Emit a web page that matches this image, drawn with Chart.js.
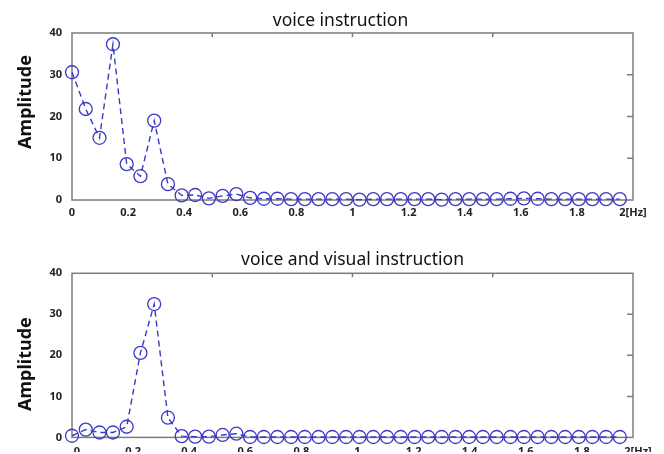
<!DOCTYPE html>
<html>
<head>
<meta charset="utf-8">
<script src="https://cdn.jsdelivr.net/npm/chart.js@4/dist/chart.umd.min.js"></script>
<style>
  html, body { margin: 0; padding: 0; background: #fff; }
  body { width: 664px; height: 454px; position: relative; overflow: hidden; }
  canvas { position: absolute; left: 0; }
  #topChart { top: 0; }
  #bottomChart { top: 240px; }
</style>
</head>
<body>
<canvas id="topChart" width="664" height="228"></canvas>
<canvas id="bottomChart" width="664" height="214"></canvas>
<script>
// frequency bins (Hz)
const freqs = [0, 0.049, 0.098, 0.146, 0.195, 0.244, 0.293, 0.342, 0.391, 0.439,
  0.488, 0.537, 0.586, 0.635, 0.684, 0.732, 0.781, 0.830, 0.879, 0.928,
  0.977, 1.025, 1.074, 1.123, 1.172, 1.221, 1.270, 1.318, 1.367, 1.416,
  1.465, 1.514, 1.563, 1.611, 1.660, 1.709, 1.758, 1.807, 1.855, 1.904, 1.953];

// amplitude spectrum, voice only
const voiceAmp = [30.6, 21.8, 14.9, 37.3, 8.6, 5.7, 19.0, 3.8, 1.1, 1.2,
  0.4, 1.0, 1.4, 0.5, 0.3, 0.3, 0.2, 0.2, 0.2, 0.2,
  0.2, 0.1, 0.2, 0.2, 0.2, 0.2, 0.2, 0.1, 0.2, 0.2,
  0.2, 0.2, 0.3, 0.4, 0.3, 0.2, 0.2, 0.2, 0.2, 0.2, 0.2];

// amplitude spectrum, voice + visual
const visualAmp = [0.4, 1.9, 1.2, 1.2, 2.6, 20.6, 32.5, 4.8, 0.3, 0.2,
  0.2, 0.6, 0.9, 0.1, 0.1, 0.1, 0.1, 0.1, 0.1, 0.1,
  0.1, 0.1, 0.1, 0.1, 0.1, 0.1, 0.1, 0.1, 0.1, 0.1,
  0.1, 0.1, 0.1, 0.1, 0.1, 0.1, 0.1, 0.1, 0.1, 0.1, 0.1];

const xTicks = [0, 0.2, 0.4, 0.6, 0.8, 1, 1.2, 1.4, 1.6, 1.8, 2];
const xTickText = ['0', '0.2', '0.4', '0.6', '0.8', '1', '1.2', '1.4', '1.6', '1.8', '2[Hz]'];
const yTicks = [0, 10, 20, 30, 40];
const yTickText = ['0', '10', '20', '30', '40'];
const topEdgeTicks = [0.5, 1, 1.5];
const rightEdgeTicks = [10, 20, 30];

const blue = '#3a3ac4';
const fontFam = '"Noto Sans", "DejaVu Sans", sans-serif';

// box around the plot, inward ticks on top/right edges, and the texts
const frameBox = {
  id: 'frameBox',
  beforeDatasetsDraw(chart) {
    const { ctx, chartArea: a, scales } = chart;
    ctx.save();
    ctx.strokeStyle = '#7c7c7c';
    ctx.lineWidth = 1.5;
    ctx.strokeRect(a.left, a.top, a.right - a.left, a.bottom - a.top);
    ctx.beginPath();
    topEdgeTicks.forEach(v => {
      const x = scales.x.getPixelForValue(v);
      ctx.moveTo(x, a.top);
      ctx.lineTo(x, a.top + 4);
    });
    rightEdgeTicks.forEach(v => {
      const y = scales.y.getPixelForValue(v);
      ctx.moveTo(a.right, y);
      ctx.lineTo(a.right - 6, y);
    });
    ctx.stroke();
    ctx.restore();
  },
  afterDraw(chart, args, opts) {
    const { ctx, chartArea: a } = chart;
    ctx.save();
    // chart title
    ctx.font = '17.5px ' + fontFam;
    ctx.fillStyle = '#111';
    ctx.textAlign = 'center';
    ctx.textBaseline = 'alphabetic';
    ctx.fillText(opts.title, (a.left + a.right) / 2 + opts.titleDx, opts.titleBase);
    // rotated y-axis title
    ctx.font = 'bold 18px ' + fontFam;
    ctx.textBaseline = 'middle';
    ctx.translate(26, (a.top + a.bottom) / 2 + opts.yTitleShift);
    ctx.rotate(-Math.PI / 2);
    ctx.fillText('Amplitude', 0, 0);
    ctx.restore();
  }
};

function makeChart(id, title, values, o) {
  const ctx = document.getElementById(id).getContext('2d');
  return new Chart(ctx, {
    type: 'line',
    data: {
      datasets: [{
        data: freqs.map((f, i) => ({ x: f, y: values[i] })),
        borderColor: blue,
        borderWidth: 1.4,
        borderDash: [6, 4],
        pointStyle: 'circle',
        pointRadius: 6.5,
        pointBorderWidth: 1.3,
        pointBorderColor: blue,
        pointBackgroundColor: 'rgba(0,0,0,0)',
        tension: 0,
        clip: false
      }]
    },
    options: {
      responsive: false,
      animation: false,
      layout: { padding: { left: 0, right: 31, top: o.areaTop, bottom: 0 } },
      plugins: {
        legend: { display: false },
        tooltip: { enabled: false },
        title: { display: false },
        frameBox: {
          title,
          titleDx: o.titleDx,
          titleBase: o.titleBase,
          yTitleShift: o.yTitleShift
        }
      },
      scales: {
        x: {
          type: 'linear',
          min: 0,
          max: 2,
          afterBuildTicks: s => { s.ticks = xTicks.map(v => ({ value: v })); },
          afterFit: s => { s.height = o.axisHeight; },
          grid: { display: false, drawTicks: false },
          border: { display: false },
          ticks: {
            autoSkip: false,
            maxRotation: 0,
            padding: o.labelPad,
            labelOffset: o.labelShift,
            color: '#222',
            font: { family: fontFam, size: 11, weight: 'bold' },
            callback: (v, i) => xTickText[i]
          }
        },
        y: {
          min: 0,
          max: 40,
          afterBuildTicks: s => { s.ticks = yTicks.map(v => ({ value: v })); },
          afterFit: s => { s.width = 72; },
          grid: { display: false, drawTicks: false },
          border: { display: false },
          ticks: {
            padding: 10,
            color: '#222',
            font: { family: fontFam, size: 11, weight: 'bold' },
            callback: (v, i) => yTickText[i]
          }
        }
      }
    },
    plugins: [frameBox]
  });
}

makeChart('topChart', 'voice instruction', voiceAmp, {
  areaTop: 33, axisHeight: 28, labelPad: 6, labelShift: 0,
  titleDx: -12, titleBase: 26, yTitleShift: -14.5
});
makeChart('bottomChart', 'voice and visual instruction', visualAmp, {
  areaTop: 33.3, axisHeight: 14.7, labelPad: 8, labelShift: 5,
  titleDx: 0, titleBase: 25, yTitleShift: 8.7
});
</script>
</body>
</html>
